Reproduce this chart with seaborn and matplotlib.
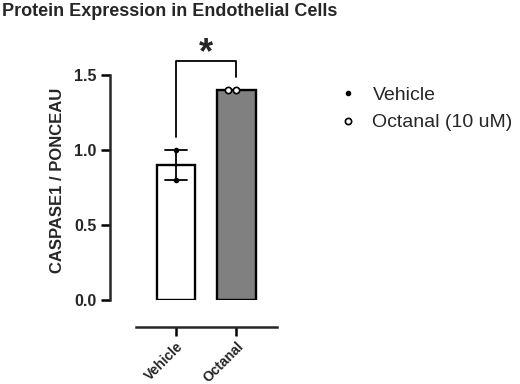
import pandas as pd
import seaborn as sns
import matplotlib.pyplot as plt
from matplotlib.lines import Line2D

# Values
groups = ["Vehicle", "Octanal"]
vehicle_vals = [1.0, 0.8]
octanal_vals = [1.4, 1.4]
legend_labels = ["Vehicle", "Octanal (10 uM)"]
bar_colors = ["#ffffff", "#808080"]

df = pd.DataFrame({
    "group": ["Vehicle"] * len(vehicle_vals) + ["Octanal"] * len(octanal_vals),
    "value": vehicle_vals + octanal_vals,
})

sns.set_style("ticks")
plt.rcParams["font.family"] = ["Liberation Sans", "DejaVu Sans"]
plt.rcParams["font.weight"] = "bold"

fig = plt.figure(figsize=(5.2, 3.84), dpi=100)
ax = fig.add_axes([110 / 520, 84 / 384, 167 / 520, 240 / 384])

sns.barplot(data=df, x="group", y="value", order=groups, hue="group",
            palette=bar_colors, errorbar="se", capsize=0.36, width=0.63,
            edgecolor="black", linewidth=1.7, err_kws={"color": "black", "linewidth": 1.3},
            legend=False, ax=ax)

sns.swarmplot(data=df[df.group == "Vehicle"], x="group", y="value", order=groups,
              color="black", size=4, ax=ax)
sns.swarmplot(data=df[df.group == "Octanal"], x="group", y="value", order=groups,
              color="white", edgecolor="black", linewidth=1.2, size=4.5, ax=ax)

# spines first: set_position resets the ticks
for side in ["top", "right"]:
    ax.spines[side].set_visible(False)
ax.spines["left"].set_linewidth(1.8)
ax.spines["left"].set_bounds(0, 1.5)
ax.spines["bottom"].set_linewidth(1.8)
ax.spines["bottom"].set_position(("outward", 19.5))
ax.spines["bottom"].set_bounds(-0.66, 1.67)

ax.set_xlim(-1.09, 1.67)
ax.set_ylim(0, 1.6)
ax.set_yticks([0.0, 0.5, 1.0, 1.5])
ax.set_yticklabels(["0.0", "0.5", "1.0", "1.5"], fontsize=11.5, fontweight="bold")
ax.set_xticks([0, 1])
ax.set_xticklabels(groups, fontsize=10, fontweight="bold", rotation=45, ha="right",
                   rotation_mode="anchor")
ax.set_xlabel("")
ax.set_ylabel("CASPASE1 / PONCEAU", fontsize=12, fontweight="bold", labelpad=7)
ax.tick_params(axis="both", width=1.8, length=6.5, color="black", pad=3)
ax.tick_params(axis="x", pad=2.5)

# significance bracket
ax.plot([0, 0, 1, 1], [1.087, 1.593, 1.593, 1.487], color="black", lw=1.3, clip_on=False)
ax.text(0.5, 1.64, "*", ha="center", va="center", fontsize=26, fontweight="bold",
        clip_on=False)

handles = [
    Line2D([], [], marker="o", linestyle="", color="black", markersize=3),
    Line2D([], [], marker="o", linestyle="", markerfacecolor="white",
           markeredgecolor="black", markeredgewidth=1.2, markersize=4.5),
]
leg = fig.legend(handles, legend_labels, loc="upper left", bbox_to_anchor=(319 / 520, 1 - 69 / 384),
                 frameon=False, prop={"size": 14, "weight": "normal"}, handletextpad=0.65,
                 labelspacing=0.5, handlelength=1.2)

fig.text(0.003, 1 - 12 / 384, "Protein Expression in Endothelial Cells", ha="left", va="center",
         fontsize=13, fontweight="bold")

fig.savefig("out.png", dpi=100)
